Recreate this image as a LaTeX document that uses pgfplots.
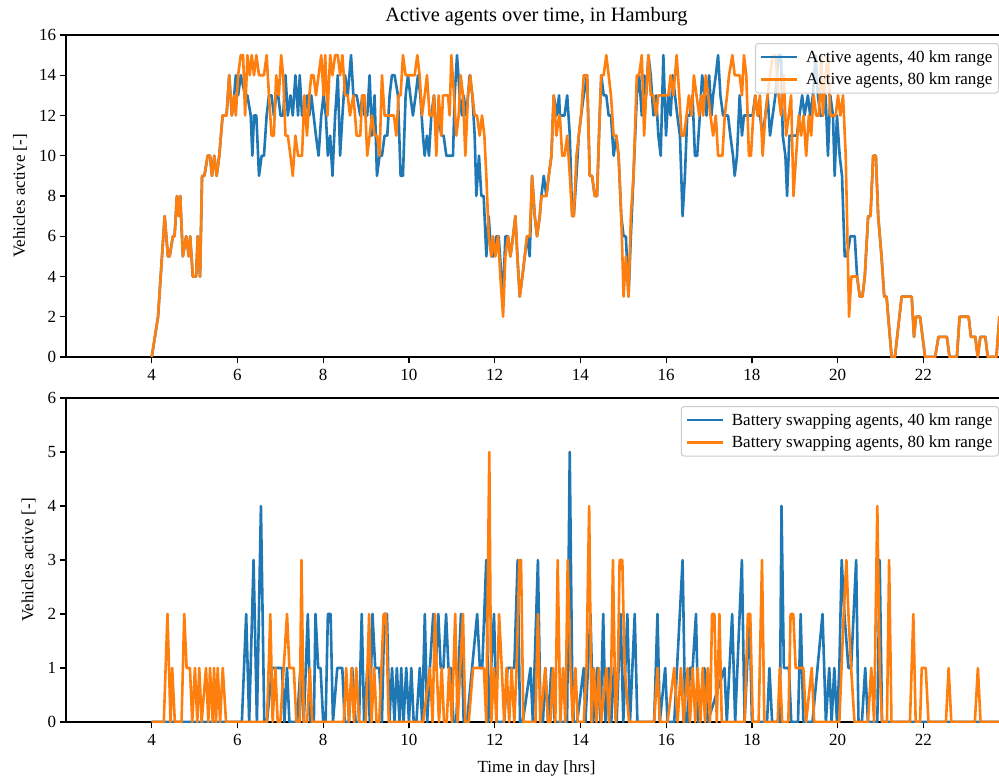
\documentclass[border=0pt]{standalone}
\usepackage{pgfplots}
\pgfplotsset{compat=1.18}
\usepackage{fontspec}
\setmainfont{Liberation Serif}
\definecolor{tabblue}{HTML}{1F77B4}
\definecolor{taborange}{HTML}{FF7F0E}
\pgfplotsset{
  myaxis/.style={
    scale only axis, width=941pt,
    xmin=2, xmax=23.95,
    xtick={4,6,...,22},
    tick align=outside, xtick pos=left, ytick pos=left,
    major tick length=6.4pt,
    major tick style={line width=1.3pt, black},
    axis line style={line width=1.3pt, black},
    /pgf/number format/assume math mode=true,
    tick label style={font=\fontsize{17}{20}\selectfont},
    xticklabel style={yshift=-2pt},
    label style={font=\fontsize{17}{20}\selectfont},
    ylabel={Vehicles active [-]},
    ylabel style={yshift=5pt},
    legend cell align=left,
    legend style={at={(1,1)}, anchor=north east, xshift=-8pt, yshift=-8pt,
      draw=black!20, line width=1pt, rounded corners=3pt, fill=white, fill opacity=0.8, text opacity=1,
      font=\fontsize{17}{20}\selectfont, inner xsep=4pt, inner ysep=5pt, row sep=5pt,
      /tikz/every odd column/.append style={column sep=6pt}},
    legend image code/.code={\draw[##1] (0pt,0pt) -- (36pt,0pt);},
    every axis plot/.append style={line width=2.6pt, line join=round, mark=none},
  }
}
\begin{document}
\begin{tikzpicture}
\begin{axis}[myaxis, name=top, at={(0,0)}, anchor=north west, height=322pt,
  ymin=0, ymax=16, ytick={0,2,...,16},
  title={Active agents over time, in Hamburg},
  title style={font=\fontsize{20.4}{24}\selectfont, at={(0.5,1)}, anchor=base, yshift=8pt}]
\addplot[tabblue] coordinates {
(4.0,0) (4.147,2) (4.301,7) (4.378,5) (4.417,5) (4.494,6) (4.533,6) (4.587,8) (4.633,7) (4.664,8) (4.726,5) (4.803,6) (4.865,5) (4.896,6) (4.958,4) (5.035,4) (5.073,6) (5.127,4) (5.174,9) (5.228,9) (5.305,10) (5.359,10) (5.405,9) (5.459,10) (5.514,9) (5.575,10) (5.653,12) (5.745,12) (5.807,14) (5.869,12)
(5.923,13) (5.961,14) (6.015,13) (6.077,14) (6.178,13) (6.232,13) (6.309,12) (6.347,10) (6.386,12) (6.440,12) (6.502,9) (6.564,10) (6.618,10) (6.680,12) (6.734,13) (6.795,13) (6.849,12) (6.903,13) (6.950,13) (7.004,12) (7.066,12) (7.120,14) (7.174,12) (7.236,13) (7.290,12) (7.351,14) (7.413,12) (7.452,14) (7.506,12) (7.560,12) (7.622,13) (7.676,12) (7.722,13) (7.776,12) (7.830,11) (7.892,10) (7.954,12) (8.008,13) (8.062,12) (8.108,10) (8.162,11) (8.216,9) (8.278,12) (8.340,14) (8.394,10) (8.448,12) (8.510,14) (8.571,13) (8.649,15) (8.703,13) (8.780,13)
(8.864,12) (8.911,13) (8.965,12) (9.027,12) (9.082,14) (9.136,11) (9.198,13) (9.253,9) (9.315,10) (9.370,10) (9.432,11) (9.494,11) (9.549,13) (9.603,14) (9.665,14) (9.743,13) (9.805,9) (9.860,9) (9.922,13) (9.977,14) (10.031,13) (10.093,12) (10.156,13) (10.210,14) (10.265,13) (10.327,11) (10.366,10) (10.420,11) (10.467,10) (10.521,12) (10.584,13) (10.638,11) (10.693,12) (10.755,11) (10.809,11) (10.872,10) (10.949,10) (11.027,10) (11.066,13) (11.121,15) (11.183,13) (11.237,12) (11.276,13) (11.339,12) (11.416,14) (11.479,13) (11.533,11) (11.572,8) (11.634,10) (11.689,8) (11.743,8) (11.805,5) (11.860,7) (11.922,5) (11.977,5) (12.039,6) (12.093,6) (12.156,4) (12.195,3) (12.249,6) (12.311,6) (12.366,5) (12.428,6) (12.482,7) (12.529,5) (12.584,3) (12.646,4) (12.700,5) (12.755,6) (12.817,5) (12.872,9) (12.934,7) (12.988,6) (13.051,7) (13.089,8) (13.144,9) (13.206,8) (13.261,9) (13.323,10) (13.377,13) (13.440,12) (13.502,13)
(13.520,12) (13.574,12) (13.629,12) (13.691,13) (13.752,11) (13.807,7) (13.845,7) (13.907,9) (13.961,11) (14.015,12) (14.077,13) (14.155,14) (14.217,9) (14.271,9) (14.333,8) (14.387,8) (14.449,12) (14.487,14) (14.542,13) (14.603,13) (14.658,12) (14.712,12) (14.774,10) (14.836,11) (14.890,10) (14.952,7) (15.006,6) (15.060,6) (15.122,3) (15.176,6) (15.238,9) (15.315,13) (15.369,14) (15.431,12) (15.486,14) (15.532,13) (15.586,15) (15.640,14) (15.702,12) (15.764,13) (15.818,11) (15.872,10) (15.934,15) (15.996,11) (16.050,13) (16.104,12) (16.151,14) (16.205,13) (16.259,12) (16.321,11) (16.383,7) (16.437,9) (16.491,12) (16.553,12) (16.615,13) (16.670,10) (16.723,10) (16.785,12) (16.839,14) (16.901,13) (16.940,12) (17.002,14) (17.056,12) (17.095,13) (17.157,14) (17.211,15) (17.265,13) (17.327,12) (17.381,12) (17.443,12) (17.497,11) (17.559,10) (17.598,9) (17.652,10) (17.714,13) (17.768,11) (17.814,12) (17.869,12) (17.930,12)
(18.016,12) (18.078,13) (18.133,12) (18.188,12) (18.250,11) (18.313,12) (18.367,13) (18.422,11) (18.484,12) (18.547,13) (18.625,15) (18.680,15) (18.719,11) (18.781,10) (18.820,8) (18.875,11) (18.938,11) (18.992,11) (19.047,11) (19.109,12) (19.172,13) (19.227,12) (19.305,13) (19.359,12) (19.422,13) (19.484,15) (19.539,13) (19.594,12) (19.656,12) (19.719,13) (19.773,10) (19.828,13) (19.891,12) (19.930,9) (19.984,12) (20.047,10) (20.102,9) (20.164,5) (20.219,5) (20.297,6) (20.359,6) (20.398,6) (20.453,4) (20.516,3) (20.578,3) (20.633,4) (20.711,7) (20.766,7) (20.828,10) (20.891,10) (20.945,7) (21.023,5) (21.086,3) (21.141,3) (21.258,0) (21.336,0) (21.492,3) (21.727,3) (21.781,1) (21.828,2) (21.922,2) (22.039,0) (22.273,0) (22.352,1) (22.547,1) (22.609,0) (22.781,0) (22.844,2) (23.055,2) (23.109,1) (23.211,1) (23.266,0) (23.328,1) (23.445,1) (23.500,0) (23.703,0) (23.773,2) (23.9,2)
};
\addlegendentry{Active agents, 40 km range}
\addplot[taborange] coordinates {
(4.0,0) (4.147,2) (4.301,7) (4.378,5) (4.417,5) (4.494,6) (4.533,6) (4.587,8) (4.633,7) (4.664,8) (4.726,5) (4.803,6) (4.865,5) (4.896,6) (4.958,4) (5.035,4) (5.073,6) (5.127,4) (5.174,9) (5.228,9) (5.305,10) (5.359,10) (5.405,9) (5.459,10) (5.514,9) (5.575,10) (5.653,12) (5.745,12) (5.807,14) (5.869,12)
(5.923,13) (5.961,12) (6.015,14) (6.077,15) (6.131,15) (6.178,12) (6.232,15) (6.286,14) (6.332,15) (6.386,14) (6.440,15) (6.502,14) (6.618,14) (6.680,15) (6.734,13) (6.795,11) (6.849,11) (6.903,14) (6.965,13) (7.019,15) (7.066,14) (7.120,11) (7.174,11) (7.236,10) (7.290,9) (7.351,11) (7.413,10) (7.506,10) (7.560,13) (7.622,11) (7.676,13) (7.722,14) (7.776,14) (7.830,13) (7.892,14) (7.954,15) (8.008,13) (8.046,15) (8.100,12) (8.162,15) (8.216,14) (8.278,15) (8.340,15) (8.394,14) (8.448,15) (8.510,13) (8.571,13) (8.625,12) (8.703,13) (8.780,11)
(8.864,11) (8.911,13) (8.965,13) (9.027,10) (9.082,11) (9.136,12) (9.198,11) (9.253,11) (9.315,10) (9.370,14) (9.432,12) (9.494,12) (9.588,12) (9.650,12) (9.704,11) (9.759,13) (9.805,13) (9.860,15) (9.922,14) (10.016,14) (10.078,14) (10.132,14) (10.195,15) (10.249,14) (10.304,12) (10.366,13) (10.420,14) (10.482,12) (10.545,12) (10.584,13) (10.638,10) (10.693,13) (10.755,11) (10.794,13) (10.856,13) (10.911,13) (10.949,12) (10.988,15) (11.051,13) (11.105,11) (11.160,12) (11.206,14) (11.261,13) (11.315,10) (11.377,13) (11.432,14) (11.479,13) (11.533,12) (11.588,12) (11.650,11) (11.704,12) (11.759,11) (11.805,9) (11.860,6) (11.922,5) (11.961,6) (12.016,5) (12.078,6) (12.132,4) (12.195,2) (12.249,5) (12.311,6) (12.366,5) (12.428,6) (12.482,7) (12.529,5) (12.584,3) (12.646,4) (12.700,5) (12.755,6) (12.817,6) (12.872,9) (12.934,7) (12.988,6) (13.051,7) (13.089,8) (13.144,8) (13.206,8) (13.261,9) (13.323,10) (13.377,13) (13.440,11) (13.502,12)
(13.520,12) (13.574,10) (13.629,10) (13.691,11) (13.752,9) (13.807,7) (13.845,7) (13.907,10) (13.961,11) (14.015,12) (14.077,14) (14.155,14) (14.217,9) (14.271,9) (14.333,8) (14.387,8) (14.449,12) (14.487,14) (14.542,14) (14.603,15) (14.658,14) (14.712,13) (14.774,11) (14.836,11) (14.890,10) (14.952,7) (15.006,3) (15.060,5) (15.122,3) (15.176,7) (15.238,9) (15.315,14) (15.369,14) (15.431,15) (15.486,11) (15.532,13) (15.586,15) (15.640,13) (15.702,13) (15.764,12) (15.818,13) (15.872,13) (15.934,13) (15.996,13) (16.050,13) (16.104,14) (16.166,13) (16.244,15) (16.306,13) (16.360,11) (16.414,11) (16.476,12) (16.530,13) (16.592,12) (16.646,14) (16.708,13) (16.770,12) (16.824,13) (16.863,12) (16.925,14) (16.979,13) (17.033,12) (17.095,11) (17.157,12) (17.211,10) (17.265,10) (17.311,10) (17.366,12) (17.420,13) (17.466,14) (17.544,15) (17.598,14) (17.652,14) (17.714,14) (17.768,13) (17.814,15) (17.869,14) (17.930,10)
(17.977,10) (18.031,12) (18.078,13) (18.133,12) (18.188,13) (18.250,10) (18.313,12) (18.367,13) (18.422,14) (18.484,15) (18.547,15) (18.625,13) (18.680,12) (18.742,14) (18.797,11) (18.859,12) (18.914,13) (18.969,8) (19.031,10) (19.094,12) (19.148,11) (19.203,12) (19.266,10) (19.328,12) (19.383,11) (19.438,13) (19.500,12) (19.563,12) (19.617,15) (19.656,12) (19.719,14) (19.773,15) (19.828,12) (19.891,12) (19.953,12) (20.008,13) (20.063,12) (20.125,13) (20.188,10) (20.266,2) (20.320,4) (20.398,4) (20.453,4) (20.516,3) (20.578,3) (20.633,4) (20.711,7) (20.766,7) (20.828,10) (20.891,10) (20.945,7) (21.023,5) (21.086,3) (21.141,3) (21.258,0) (21.336,0) (21.492,3) (21.727,3) (21.781,1) (21.828,2) (21.922,2) (22.039,0) (22.273,0) (22.352,1) (22.547,1) (22.609,0) (22.781,0) (22.844,2) (23.055,2) (23.109,1) (23.211,1) (23.266,0) (23.328,1) (23.445,1) (23.500,0) (23.703,0) (23.773,2) (23.9,2)
};
\addlegendentry{Active agents, 80 km range}
\end{axis}
\begin{axis}[myaxis, name=bot, at={(0,-363pt)}, anchor=north west, height=324pt,
  ymin=0, ymax=6, ytick={0,1,...,6},
  xlabel={Time in day [hrs]}, xlabel style={yshift=-8pt}]
\addplot[tabblue] coordinates {
(4,0) (6.102,0) (6.203,2) (6.273,0) (6.375,3) (6.453,0) (6.547,4) (6.625,0) (6.688,0) (6.805,1) (6.961,1) (7.039,1) (7.094,0) (7.156,1) (7.211,0) (7.313,0) (7.391,0) (7.469,1) (7.547,0) (7.641,2) (7.703,0) (7.781,0) (7.820,2) (7.883,1) (7.938,1) (8.000,0) (8.055,0) (8.109,2) (8.172,2) (8.227,0) (8.328,1) (8.445,1) (8.500,0)
(8.598,0) (8.677,1) (8.756,0) (8.835,0) (8.898,2) (8.953,0) (9.031,1) (9.087,0) (9.150,2) (9.213,1) (9.307,1) (9.370,0) (9.425,2) (9.488,2) (9.543,0) (9.606,1) (9.661,0) (9.717,1) (9.780,0) (9.819,1) (9.874,0) (9.937,1) (10.0,0) (10.055,1) (10.110,0) (10.173,0) (10.252,1) (10.307,0) (10.370,2) (10.425,0) (10.488,1) (10.567,2) (10.622,1) (10.685,2) (10.740,1) (10.803,1) (10.866,2) (10.921,1) (10.976,1) (11.039,0) (11.102,0) (11.157,1) (11.213,2) (11.276,0) (11.354,0) (11.591,2) (11.654,1) (11.709,1) (11.803,3) (11.850,0) (11.984,2) (12.047,0) (12.220,0) (12.299,1) (12.378,1) (12.457,1) (12.535,3) (12.591,0) (12.654,0) (12.835,1) (12.890,0) (13.008,3) (13.071,0) (13.126,0) (13.181,1) (13.244,0) (13.323,1)
(13.402,0) (13.688,0) (13.750,5) (13.805,1) (13.844,0) (13.922,0) (14.078,1) (14.117,0) (14.234,2) (14.297,0) (14.391,1) (14.469,0) (14.531,2) (14.586,0) (14.664,1) (14.719,0) (14.781,1) (14.844,0) (14.938,2) (15.000,0) (15.094,2) (15.156,0) (15.266,2) (15.328,0) (15.719,0) (15.797,2) (15.852,0) (15.977,1) (16.031,0) (16.188,0) (16.383,3) (16.445,0) (16.500,0) (16.555,1) (16.617,1) (16.695,2) (16.750,0) (16.891,1) (16.969,0) (17.359,1) (17.414,0) (17.539,2) (17.609,0) (17.766,3) (17.828,0) (17.945,2) (18.0,0)
(18.039,0) (18.353,0) (18.408,1) (18.471,0) (18.651,0) (18.690,4) (18.745,1) (18.800,1) (18.863,1) (18.918,0) (19.075,0) (19.137,2) (19.200,0) (19.412,0) (19.647,2) (19.725,0) (19.804,1) (19.859,0) (19.922,1) (19.984,0) (20.039,1) (20.094,3) (20.157,2) (20.251,1) (20.314,1) (20.431,3) (20.486,0) (20.565,0) (20.643,1) (20.706,0) (20.925,0) (20.980,3) (21.035,0) (23.95,0)
};
\addlegendentry{Battery swapping agents, 40 km range}
\addplot[taborange] coordinates {
(4,0) (4.281,0) (4.367,2) (4.438,0) (4.477,1) (4.539,0) (4.695,0) (4.758,2) (4.813,1) (4.891,1) (4.945,0) (5.008,1) (5.063,0) (5.109,1) (5.164,0) (5.266,1) (5.320,0) (5.359,1) (5.422,0) (5.453,1) (5.500,0) (5.539,1) (5.594,0) (5.656,1) (5.734,0) (6.688,0) (6.766,2) (6.820,0) (6.883,1) (6.938,0) (7.0,0) (7.156,2) (7.211,1) (7.313,1) (7.375,0) (7.453,0) (7.492,3) (7.547,0) (7.625,0) (7.688,1) (7.742,0) (8.480,0) (8.535,1) (8.598,0) (8.661,1) (8.717,0) (8.772,1) (8.835,0) (8.992,0) (9.071,2) (9.126,0) (9.189,1) (9.244,0) (9.307,0) (9.409,2) (9.465,2) (9.528,0)
(10.331,0) (10.488,1) (10.551,0) (10.606,2) (10.646,1) (10.701,0) (10.764,1) (10.819,0) (10.882,0) (10.937,1) (11.000,0) (11.079,2) (11.134,0) (11.197,1) (11.260,2) (11.315,0) (11.394,0) (11.496,1) (11.748,1) (11.803,0) (11.874,5) (11.921,0) (11.984,1) (12.039,0) (12.102,2) (12.165,1) (12.220,0) (12.276,1) (12.339,0) (12.394,1) (12.457,0) (12.512,1) (12.575,3) (12.614,3) (12.669,0) (12.95,0) (13.008,2) (13.063,0) (13.181,1) (13.244,0) (13.302,0)
(13.359,1) (13.414,0) (13.469,3) (13.531,0) (13.594,1) (13.648,0) (13.703,3) (13.766,1) (13.820,0) (13.883,1) (13.938,0) (14.078,0) (14.141,1) (14.203,4) (14.258,0) (14.313,1) (14.375,0) (14.430,1) (14.484,0) (14.609,1) (14.664,0) (14.719,1) (14.758,3) (14.820,0) (14.875,1) (14.914,3) (14.977,3) (15.031,1) (15.133,0) (15.719,0) (15.797,1) (15.852,0) (16.031,0) (16.188,1) (16.266,0) (16.344,1) (16.406,0) (16.500,1) (16.555,0) (16.617,1) (16.680,0) (16.734,1) (16.797,0) (16.852,1) (16.906,0) (16.969,1) (17.023,0) (17.070,2) (17.125,2) (17.180,0) (17.242,2) (17.297,0) (17.828,0) (17.906,2) (17.961,2) (18.02,0)
(18.157,0) (18.235,3) (18.290,0) (18.600,0) (18.651,1) (18.706,0) (18.850,0) (18.902,2) (18.965,2) (19.020,1) (19.200,1) (19.263,0) (19.396,1) (19.451,0) (20.039,0) (20.141,2) (20.204,3) (20.251,2) (20.314,1) (20.392,0) (20.706,0) (20.784,1) (20.850,0) (20.925,4) (20.980,1) (21.035,0) (21.150,0) (21.200,3) (21.255,0) (21.686,0) (21.765,2) (21.820,0) (21.922,0) (21.961,1) (22.055,1) (22.118,0) (22.525,0) (22.588,1) (22.651,0) (23.200,0) (23.271,1) (23.333,0) (23.95,0)
};
\addlegendentry{Battery swapping agents, 80 km range}
\end{axis}
\pgfresetboundingbox
\path[use as bounding box] (-66pt,35pt) rectangle (933pt,-745pt);
\end{tikzpicture}
\end{document}
